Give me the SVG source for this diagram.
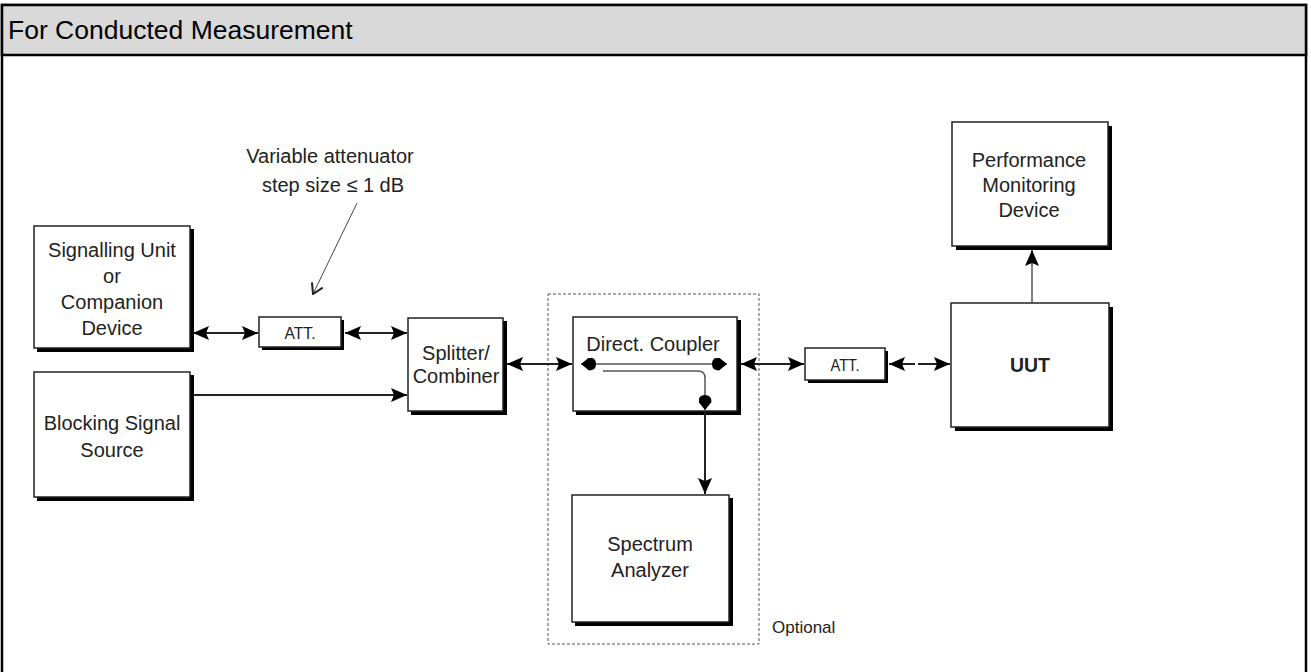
<svg xmlns="http://www.w3.org/2000/svg" width="1311" height="672" viewBox="0 0 1311 672">
  <style>
    .lbl { font-family: "Liberation Sans", Arial, sans-serif; font-size: 20px; fill: #222; text-anchor: middle; }
    .att { font-family: "Liberation Sans", Arial, sans-serif; font-size: 16px; fill: #222; text-anchor: middle; }
    .head { font-family: "Liberation Sans", Arial, sans-serif; font-size: 26.5px; fill: #000; }
    .box { fill: #fff; stroke: #222; stroke-width: 1.5; }
    .shadow { fill: #000; }
    .wire { stroke: #222; stroke-width: 2; fill: none; }
    .thin { stroke: #555; stroke-width: 1.5; fill: none; }
  </style>
  <defs>
    <marker id="tri" viewBox="0 0 16 14" refX="16" refY="7" markerWidth="16" markerHeight="14" markerUnits="userSpaceOnUse" orient="auto-start-reverse">
      <path d="M0,0 L16,7 L0,14 L3,7 Z" fill="#000"/>
    </marker>
    <marker id="blob" viewBox="0 0 15 13" refX="15" refY="6.5" markerWidth="15" markerHeight="13" markerUnits="userSpaceOnUse" orient="auto-start-reverse">
      <path d="M15,6.5 L7,0 Q0,0 0,6.5 Q0,13 7,13 Z" fill="#000"/>
    </marker>
    <marker id="chev" viewBox="0 0 12 14" refX="11" refY="7" markerWidth="12" markerHeight="14" markerUnits="userSpaceOnUse" orient="auto">
      <path d="M1,1 L11,7 L1,13" fill="none" stroke="#222" stroke-width="2"/>
    </marker>
  </defs>

  <!-- page frame and title bar -->
  <rect x="2" y="5" width="1304" height="700" fill="#fff" stroke="#000" stroke-width="2.5"/>
  <rect x="2" y="5" width="1304" height="50" fill="#d9d9d9" stroke="#000" stroke-width="2.5"/>
  <text class="head" x="8" y="39">For Conducted Measurement</text>

  <!-- optional measurement section -->
  <rect x="548" y="294" width="211" height="350" fill="none" stroke="#555" stroke-width="1" stroke-dasharray="3,2"/>
  <text x="772" y="633" style="font-family:'Liberation Sans',Arial,sans-serif;font-size:17px;fill:#222">Optional</text>

  <!-- attenuator note -->
  <g id="note">
    <text class="lbl" x="330" y="163">Variable attenuator</text>
    <text class="lbl" x="333" y="192">step size ≤ 1 dB</text>
    <line x1="357" y1="203" x2="313" y2="294" stroke="#444" stroke-width="1" marker-end="url(#chev)"/>
  </g>

  <g id="signalling-unit">
    <rect class="shadow" x="37" y="229" width="157" height="123"/>
    <rect class="box" x="34" y="226" width="156" height="122"/>
    <text class="lbl" x="112" y="257">Signalling Unit</text>
    <text class="lbl" x="112" y="283">or</text>
    <text class="lbl" x="112" y="309">Companion</text>
    <text class="lbl" x="112" y="335">Device</text>
  </g>

  <g id="blocking-source">
    <rect class="shadow" x="37" y="375" width="157" height="126"/>
    <rect class="box" x="34" y="372" width="156" height="125"/>
    <text class="lbl" x="112" y="430">Blocking Signal</text>
    <text class="lbl" x="112" y="457">Source</text>
  </g>

  <g id="att-1">
    <rect class="shadow" x="262" y="320" width="82" height="30"/>
    <rect class="box" x="259" y="317" width="82" height="30"/>
    <text class="att" x="300" y="339" textLength="31" lengthAdjust="spacingAndGlyphs">ATT.</text>
  </g>

  <g id="splitter">
    <rect class="shadow" x="411" y="321" width="96" height="94"/>
    <rect class="box" x="408" y="318" width="95" height="93"/>
    <text class="lbl" x="456" y="360">Splitter/</text>
    <text class="lbl" x="456" y="383">Combiner</text>
  </g>

  <g id="coupler">
    <rect class="shadow" x="576" y="320" width="165" height="95"/>
    <rect class="box" x="573" y="317" width="164" height="94"/>
    <text class="lbl" x="653" y="351">Direct. Coupler</text>
    <line class="thin" x1="581" y1="364" x2="727" y2="364" marker-start="url(#blob)" marker-end="url(#blob)"/>
    <path class="thin" d="M603,371 H698 Q705,371 705,378 V410" marker-end="url(#blob)"/>
  </g>

  <g id="spectrum">
    <rect class="shadow" x="575" y="498" width="158" height="128"/>
    <rect class="box" x="572" y="495" width="157" height="127"/>
    <text class="lbl" x="650" y="551">Spectrum</text>
    <text class="lbl" x="650" y="577">Analyzer</text>
  </g>

  <g id="att-2">
    <rect class="shadow" x="808" y="351" width="80" height="32"/>
    <rect class="box" x="805" y="348" width="80" height="32"/>
    <text class="att" x="845" y="371" textLength="29" lengthAdjust="spacingAndGlyphs">ATT.</text>
  </g>

  <g id="uut">
    <rect class="shadow" x="955" y="307" width="158" height="124"/>
    <rect class="box" x="951" y="303" width="158" height="124"/>
    <text class="lbl" x="1030" y="372" font-weight="bold" textLength="40" lengthAdjust="spacingAndGlyphs">UUT</text>
  </g>

  <g id="monitor">
    <rect class="shadow" x="956" y="126" width="156" height="124"/>
    <rect class="box" x="952" y="122" width="156" height="124"/>
    <text class="lbl" x="1029" y="167">Performance</text>
    <text class="lbl" x="1029" y="192">Monitoring</text>
    <text class="lbl" x="1029" y="217">Device</text>
  </g>

  <g id="connectors">
    <line class="wire" x1="193" y1="333" x2="258" y2="333" marker-start="url(#tri)" marker-end="url(#tri)"/>
    <line class="wire" x1="345" y1="333" x2="407" y2="333" marker-start="url(#tri)" marker-end="url(#tri)"/>
    <line class="wire" x1="194" y1="395" x2="407" y2="395" marker-end="url(#tri)"/>
    <line class="wire" x1="507" y1="364" x2="572" y2="364" marker-start="url(#tri)" marker-end="url(#tri)"/>
    <line class="wire" x1="741" y1="364" x2="804" y2="364" marker-start="url(#tri)" marker-end="url(#tri)"/>
    <line class="wire" x1="889" y1="364" x2="915" y2="364" marker-start="url(#tri)"/>
    <line class="wire" x1="918" y1="364" x2="950" y2="364" marker-end="url(#tri)"/>
    <line class="wire" x1="705" y1="412" x2="705" y2="494" marker-end="url(#tri)"/>
    <line x1="1032" y1="303" x2="1032" y2="250" stroke="#555" stroke-width="1.5" marker-end="url(#tri)"/>
  </g>
</svg>
